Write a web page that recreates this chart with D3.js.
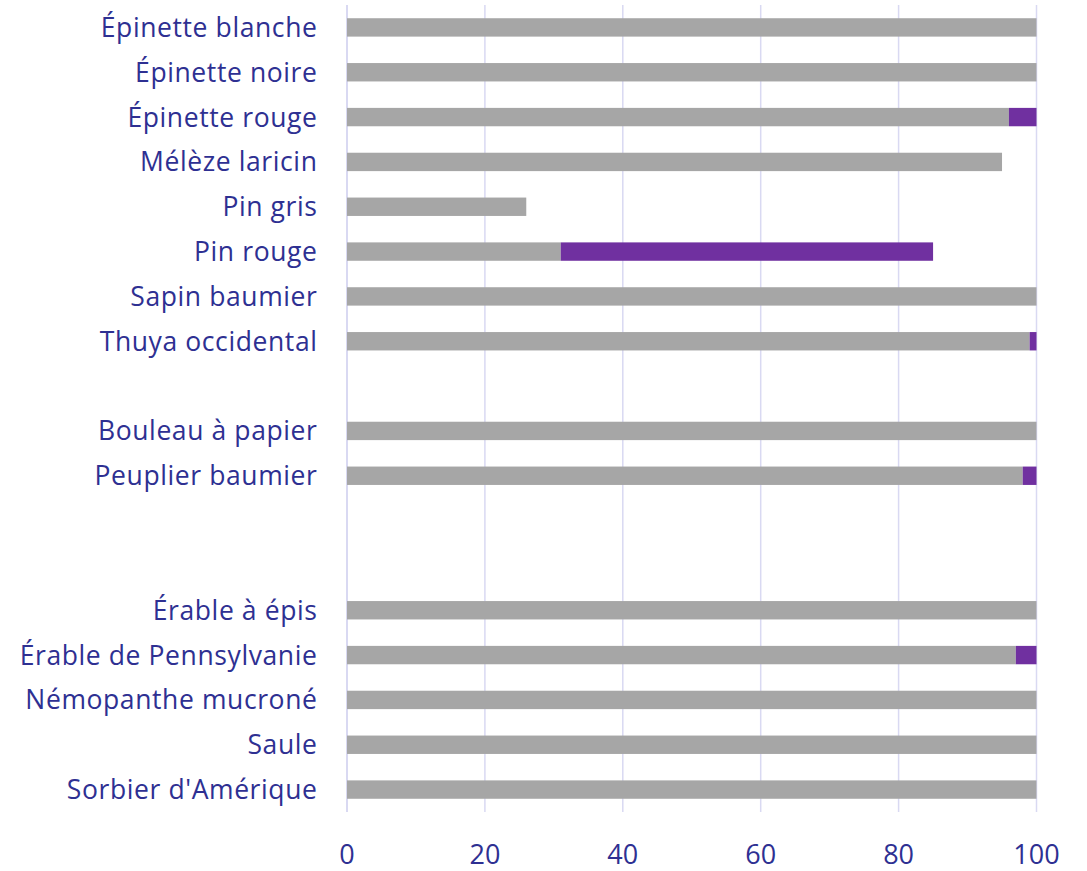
<!DOCTYPE html>
<html>
<head>
<meta charset="utf-8">
<script src="https://cdn.jsdelivr.net/npm/d3@7"></script>
<style>
  html, body { margin: 0; padding: 0; background: #ffffff; }
  svg { display: block; }
  text { font-family: "Open Sans", Lato, sans-serif; fill: #2e3092; }
</style>
</head>
<body>
<svg id="chart" width="1087" height="871"></svg>
<script>
// Species rows (empty strings are spacer rows between groups)
const species = [
  "Épinette blanche", "Épinette noire", "Épinette rouge", "Mélèze laricin",
  "Pin gris", "Pin rouge", "Sapin baumier", "Thuya occidental",
  "",
  "Bouleau à papier", "Peuplier baumier",
  "", "",
  "Érable à épis", "Érable de Pennsylvanie", "Némopanthe mucroné",
  "Saule", "Sorbier d'Amérique"
];
// Grey segment values
const greyValues = [100, 100, 96, 95, 26, 31, 100, 99, null, 100, 98, null, null, 100, 97, 100, 100, 100];
// Purple segment values
const purpleValues = [0, 0, 4, 0, 0, 54, 0, 1, null, 0, 2, null, null, 0, 3, 0, 0, 0];
const xTicks = [0, 20, 40, 60, 80, 100];

const svg = d3.select("#chart");
const plotLeft = 347, plotRight = 1036.5, plotTop = 5, plotBottom = 812;

const rows = species.map((name, i) => ({ key: "r" + i, name, grey: greyValues[i], purple: purpleValues[i] }));

const x = d3.scaleLinear().domain([0, 100]).range([plotLeft, plotRight]);
const y = d3.scaleBand().domain(rows.map(d => d.key)).range([plotTop, plotBottom]).paddingInner(0.59).paddingOuter(0.295);

// Vertical gridlines
svg.append("g")
  .selectAll("line")
  .data(xTicks)
  .join("line")
  .attr("x1", d => x(d)).attr("x2", d => x(d))
  .attr("y1", plotTop).attr("y2", plotBottom)
  .attr("stroke", "#d9d9f2")
  .attr("stroke-width", d => d === 0 ? 2 : 1.5);

const data = rows.filter(d => d.grey !== null);

// Grey segments
svg.append("g")
  .selectAll("rect")
  .data(data)
  .join("rect")
  .attr("x", x(0))
  .attr("y", d => y(d.key))
  .attr("width", d => x(d.grey) - x(0))
  .attr("height", y.bandwidth())
  .attr("fill", "#a6a6a6");

// Purple segments stacked after grey
svg.append("g")
  .selectAll("rect")
  .data(data.filter(d => d.purple > 0))
  .join("rect")
  .attr("x", d => x(d.grey))
  .attr("y", d => y(d.key))
  .attr("width", d => x(d.grey + d.purple) - x(d.grey))
  .attr("height", y.bandwidth())
  .attr("fill", "#7030a0");

// Category labels
svg.append("g")
  .selectAll("text")
  .data(rows.filter(d => d.name))
  .join("text")
  .attr("x", 317.5)
  .attr("y", d => y(d.key) + y.bandwidth() / 2)
  .attr("dy", "0.36em")
  .attr("text-anchor", "end")
  .style("font-size", "26.5px")
  .style("letter-spacing", "0.6px")
  .text(d => d.name);

// X axis tick labels
svg.append("g")
  .selectAll("text")
  .data(xTicks)
  .join("text")
  .attr("x", d => x(d))
  .attr("y", 854)
  .attr("dy", "0.36em")
  .attr("text-anchor", "middle")
  .style("font-size", "27px")
  .text(d => d);
</script>
</body>
</html>
